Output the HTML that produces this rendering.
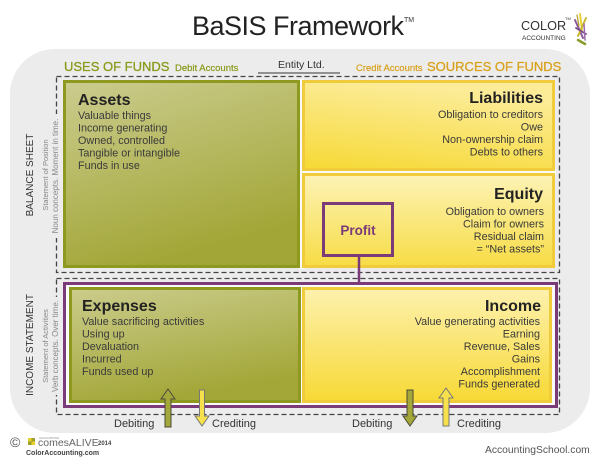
<!DOCTYPE html>
<html><head><meta charset="utf-8"><style>
html,body{margin:0;padding:0;background:#fff;width:600px;height:459px;overflow:hidden}
svg{display:block}
text{font-family:"Liberation Sans",Arial,sans-serif}
</style></head><body>
<svg width="600" height="459" viewBox="0 0 600 459" xmlns="http://www.w3.org/2000/svg">
<defs>
<linearGradient id="gOl" x1="0" y1="0" x2="0.35" y2="1">
<stop offset="0" stop-color="#cbcc8e"/><stop offset="1" stop-color="#a2a636"/></linearGradient>
<linearGradient id="gOl2" x1="0" y1="0" x2="0.35" y2="1">
<stop offset="0" stop-color="#cbcc8c"/><stop offset="1" stop-color="#a3a738"/></linearGradient>
<linearGradient id="gY1" x1="0.3" y1="0" x2="0" y2="1">
<stop offset="0" stop-color="#fcec98"/><stop offset="1" stop-color="#f6d935"/></linearGradient>
<linearGradient id="gY2" x1="0" y1="0" x2="0" y2="1">
<stop offset="0" stop-color="#fdf3b6"/><stop offset="1" stop-color="#f7dc45"/></linearGradient>
<linearGradient id="gY3" x1="0" y1="0" x2="0" y2="1">
<stop offset="0" stop-color="#fdf1ae"/><stop offset="1" stop-color="#f7d935"/></linearGradient>
</defs>

<!-- title -->
<text x="192" y="35" font-size="27" letter-spacing="-0.5" fill="#222">BaSIS Framework</text>
<text x="404" y="22" font-size="7" fill="#333">TM</text>

<!-- logo -->
<text x="521" y="30" font-size="12.7" fill="#333">COLOR</text>
<text x="565" y="20" font-size="4" fill="#333">TM</text>
<text x="522" y="40" font-size="6.5" fill="#333">ACCOUNTING</text>
<g stroke-linecap="round">
<path d="M580 14 L582 30" stroke="#e8d23a" stroke-width="2"/>
<path d="M575 20 L583 38" stroke="#8a5a9a" stroke-width="2"/>
<path d="M586 18 L578 36" stroke="#c9b930" stroke-width="2"/>
<path d="M576 28 L586 34" stroke="#7a4a8a" stroke-width="1.8"/>
<path d="M584 24 L585 40" stroke="#9a6aaa" stroke-width="1.5"/>
<path d="M578 40 L585 44" stroke="#8a9a2a" stroke-width="2.5"/>
<path d="M577 15 L579 26" stroke="#b0a020" stroke-width="1.2"/>
</g>

<!-- gray background -->
<rect x="10" y="49" width="580" height="384" rx="45" ry="45" fill="#ececec"/>

<!-- header texts -->
<text x="64" y="71" font-size="13" fill="#8b9a1b" stroke="#8b9a1b" stroke-width="0.3">USES OF FUNDS</text>
<text x="175" y="71" font-size="9.5" fill="#8b9a1b" stroke="#8b9a1b" stroke-width="0.2">Debit Accounts</text>
<text x="278" y="68" font-size="10.5" fill="#333">Entity Ltd.</text>
<line x1="258" y1="73" x2="340" y2="73" stroke="#333" stroke-width="1"/>
<text x="356" y="71" font-size="9.5" fill="#d9a11d" stroke="#d9a11d" stroke-width="0.2">Credit Accounts</text>
<text x="427" y="71" font-size="13" fill="#d9a11d" stroke="#d9a11d" stroke-width="0.3">SOURCES OF FUNDS</text>

<!-- dashed sections -->
<rect x="56.5" y="76.5" width="503" height="196" fill="none" stroke="#444" stroke-width="1.3" stroke-dasharray="5 3"/>
<rect x="56.5" y="278.5" width="503" height="136" fill="none" stroke="#444" stroke-width="1.3" stroke-dasharray="5 3"/>

<!-- white gaps -->
<rect x="299" y="79" width="5" height="190" fill="#fafafa"/>
<rect x="301" y="169" width="255" height="6" fill="#fafafa"/>

<!-- Assets -->
<rect x="64.5" y="81.5" width="234" height="185" fill="url(#gOl)" stroke="#8d9a1f" stroke-width="3"/>
<text x="78" y="105" font-size="16" font-weight="bold" fill="#222">Assets</text>
<g font-size="10.8" fill="#3a3a3a">
<text x="78" y="119">Valuable things</text>
<text x="78" y="131.5">Income generating</text>
<text x="78" y="144">Owned, controlled</text>
<text x="78" y="156.5">Tangible or intangible</text>
<text x="78" y="169">Funds in use</text>
</g>

<!-- Liabilities -->
<rect x="303.5" y="81.5" width="250" height="88" fill="url(#gY1)" stroke="#f0cc3c" stroke-width="3"/>
<text x="543" y="103" font-size="16" font-weight="bold" fill="#222" text-anchor="end">Liabilities</text>
<g font-size="10.8" fill="#3a3a3a" text-anchor="end">
<text x="543" y="118">Obligation to creditors</text>
<text x="543" y="130.5">Owe</text>
<text x="543" y="143">Non-ownership claim</text>
<text x="543" y="155.5">Debts to others</text>
</g>

<!-- Equity -->
<rect x="303.5" y="174.5" width="250" height="92" fill="url(#gY2)" stroke="#f0cc3c" stroke-width="3"/>
<text x="543" y="199" font-size="16" font-weight="bold" fill="#222" text-anchor="end">Equity</text>
<g font-size="10.8" fill="#3a3a3a" text-anchor="end">
<text x="544" y="215">Obligation to owners</text>
<text x="544" y="227.5">Claim for owners</text>
<text x="544" y="240">Residual claim</text>
<text x="544" y="252.5">= “Net assets”</text>
</g>

<!-- Profit -->
<rect x="323.5" y="203.5" width="69" height="52" fill="none" stroke="#7a3b78" stroke-width="3"/>
<text x="358" y="235" font-size="13.5" font-weight="bold" fill="#7a3b78" text-anchor="middle">Profit</text>
<line x1="359" y1="257" x2="359" y2="283" stroke="#7a3b78" stroke-width="2.5"/>

<!-- Income statement purple -->
<rect x="64.5" y="283.5" width="492" height="123" fill="#fafafa" stroke="#7a3b78" stroke-width="3"/>

<!-- Expenses -->
<rect x="70.5" y="288.5" width="229" height="113" fill="url(#gOl2)" stroke="#8d9a1f" stroke-width="3"/>
<text x="82" y="311" font-size="16" font-weight="bold" fill="#222">Expenses</text>
<g font-size="10.8" fill="#3a3a3a">
<text x="82" y="325">Value sacrificing activities</text>
<text x="82" y="337.5">Using up</text>
<text x="82" y="350">Devaluation</text>
<text x="82" y="362.5">Incurred</text>
<text x="82" y="375">Funds used up</text>
</g>

<!-- Income -->
<rect x="303.5" y="288.5" width="247" height="113" fill="url(#gY3)" stroke="#f0cc3c" stroke-width="3"/>
<text x="541" y="311" font-size="16" font-weight="bold" fill="#222" text-anchor="end">Income</text>
<g font-size="10.8" fill="#3a3a3a" text-anchor="end">
<text x="540" y="325">Value generating activities</text>
<text x="540" y="337.5">Earning</text>
<text x="540" y="350">Revenue, Sales</text>
<text x="540" y="362.5">Gains</text>
<text x="540" y="375">Accomplishment</text>
<text x="540" y="387.5">Funds generated</text>
</g>

<!-- side labels -->
<rect x="50" y="114" width="10" height="124" fill="#ececec"/>
<rect x="50" y="297" width="10" height="98" fill="#ececec"/>
<text x="33" y="175" font-size="10" fill="#333" text-anchor="middle" transform="rotate(-90 33 175)">BALANCE SHEET</text>
<text x="48" y="175" font-size="7.5" fill="#888" text-anchor="middle" transform="rotate(-90 48 175)">Statement of Position</text>
<text x="58" y="176" font-size="8" fill="#888" text-anchor="middle" transform="rotate(-90 58 176)">Noun concepts. Moment in time.</text>
<text x="33" y="345" font-size="10" fill="#333" text-anchor="middle" transform="rotate(-90 33 345)">INCOME STATEMENT</text>
<text x="48" y="346" font-size="7.5" fill="#888" text-anchor="middle" transform="rotate(-90 48 346)">Statement of Activities</text>
<text x="58" y="346" font-size="8" fill="#888" text-anchor="middle" transform="rotate(-90 58 346)">Verb concepts. Over time.</text>

<!-- arrows -->
<polygon points="168,389 175,399 171,399 171,427 165,427 165,399 161,399" fill="#a4a83b" stroke="#4a4a3a" stroke-width="1"/>
<polygon points="199.5,390 204.5,390 204.5,416 209,416 202,426 195,416 199.5,416" fill="#f6e04c" stroke="#777" stroke-width="1"/>
<polygon points="407,390 413,390 413,416 417,416 410,426 403,416 407,416" fill="#a4a83b" stroke="#4a4a3a" stroke-width="1"/>
<polygon points="446,388 453,398 449,398 449,426 443,426 443,398 439,398" fill="#f6e04c" stroke="#777" stroke-width="1"/>

<g font-size="11" fill="#333">
<text x="114" y="427">Debiting</text>
<text x="212" y="427">Crediting</text>
<text x="352" y="427">Debiting</text>
<text x="457" y="427">Crediting</text>
</g>

<!-- footer -->
<text x="10" y="447" font-size="14" fill="#555">©</text>
<rect x="28" y="438" width="3.5" height="3.5" fill="#e8cf2a"/>
<rect x="31.5" y="438" width="3.5" height="3.5" fill="#9aa02a"/>
<rect x="28" y="441.5" width="3.5" height="3.5" fill="#9aa02a"/>
<rect x="31.5" y="441.5" width="3.5" height="3.5" fill="#e8cf2a"/>
<text x="39" y="439" font-size="3" fill="#888">ACCOUNTING</text>
<text x="38" y="446" font-size="10.5" fill="#666">comesALIVE</text>
<text x="98" y="445" font-size="6" font-weight="bold" fill="#444">2014</text>
<text x="26" y="455" font-size="7" font-weight="bold" fill="#444">ColorAccounting.com</text>
<text x="485" y="453" font-size="10.3" fill="#555">AccountingSchool.com</text>
</svg>
</body></html>
